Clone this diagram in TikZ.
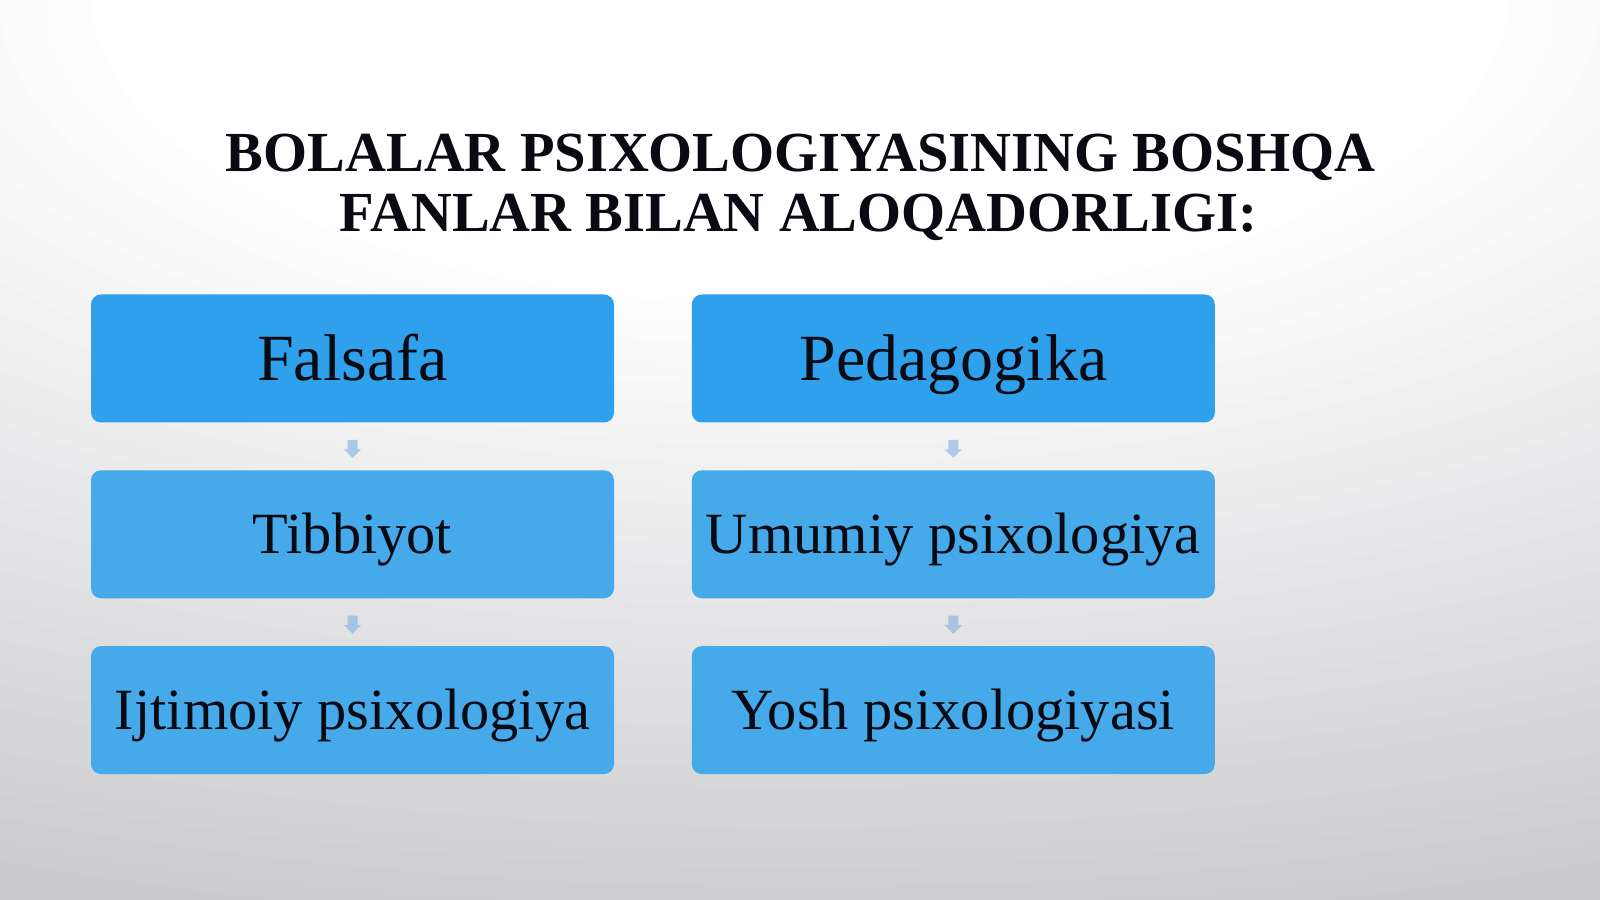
\documentclass[tikz,border=0pt]{standalone}
\usepackage{fontspec}
\setmainfont{Liberation Serif}
\usetikzlibrary{positioning,shapes.arrows}

\definecolor{boxtop}{HTML}{2FA0EC}
\definecolor{boxlow}{HTML}{46A9E9}
\definecolor{bgedge}{HTML}{BEBEC3}
\definecolor{txt}{HTML}{0A0A12}
\definecolor{arrowblue}{HTML}{7DAFE2}

\begin{document}
\begin{tikzpicture}[x=0.5pt, y=0.5pt,
  fan/.style={rectangle, rounded corners=5pt, minimum width=261.5pt, minimum height=64pt,
    inner sep=0pt, text=txt},
  fantop/.style={fan, fill=boxtop, text height=29pt, text depth=7.2pt,
    font=\fontsize{33}{37}\selectfont},
  fanlow/.style={fan, fill=boxlow, text height=26pt, text depth=6.7pt,
    font=\fontsize{29.2}{33}\selectfont},
  gaparrow/.style={single arrow, shape border rotate=270, fill=arrowblue, opacity=0.6,
    minimum height=9pt, inner sep=2.3pt, single arrow head extend=1.8pt},
  heading/.style={anchor=base, text=txt, font=\fontsize{28.3}{31}\selectfont\bfseries},
  node distance=23.5pt and 38.5pt]
  % slide background, white at the top, grey towards the bottom
  \begin{scope}
    \clip (0,0) rectangle (1600,899);
    \fill[bgedge] (0,0) rectangle (1600,899);
    \foreach \k in {0,...,40} {
      \pgfmathsetmacro\dd{1-\k*0.724/40}
      \pgfmathsetmacro\ff{100*(1-\k/40)}
      \fill[bgedge!\ff!white] (800,899) ellipse [x radius=2564*\dd, y radius=1108*\dd];
    }
  \end{scope}
  \useasboundingbox (0,0) rectangle (1600,899);

  % title
  \node[heading] (title1) at (800.5,727) {BOLALAR PSIXOLOGIYASINING BOSHQA};
  \node[heading] (title2) at (798.5,667) {FANLAR BILAN ALOQADORLIGI:};

  % left column
  \node[fantop] (falsafa) at (352.5,540.5) {Falsafa};
  \node[fanlow, below=of falsafa] (tibbiyot) {Tibbiyot};
  \node[fanlow, below=of tibbiyot] (ijtimoiy) {Ijtimoiy psixologiya};

  % right column
  \node[fantop, right=of falsafa] (pedagogika) {Pedagogika};
  \node[fanlow, below=of pedagogika] (umumiy) {Umumiy psixologiya};
  \node[fanlow, below=of umumiy] (yosh) {Yosh psixologiyasi};

  % small arrows in the gaps
  \path (falsafa) -- node[gaparrow] (arr1) {} (tibbiyot);
  \path (tibbiyot) -- node[gaparrow] (arr2) {} (ijtimoiy);
  \path (pedagogika) -- node[gaparrow] (arr3) {} (umumiy);
  \path (umumiy) -- node[gaparrow] (arr4) {} (yosh);
\end{tikzpicture}
\end{document}
